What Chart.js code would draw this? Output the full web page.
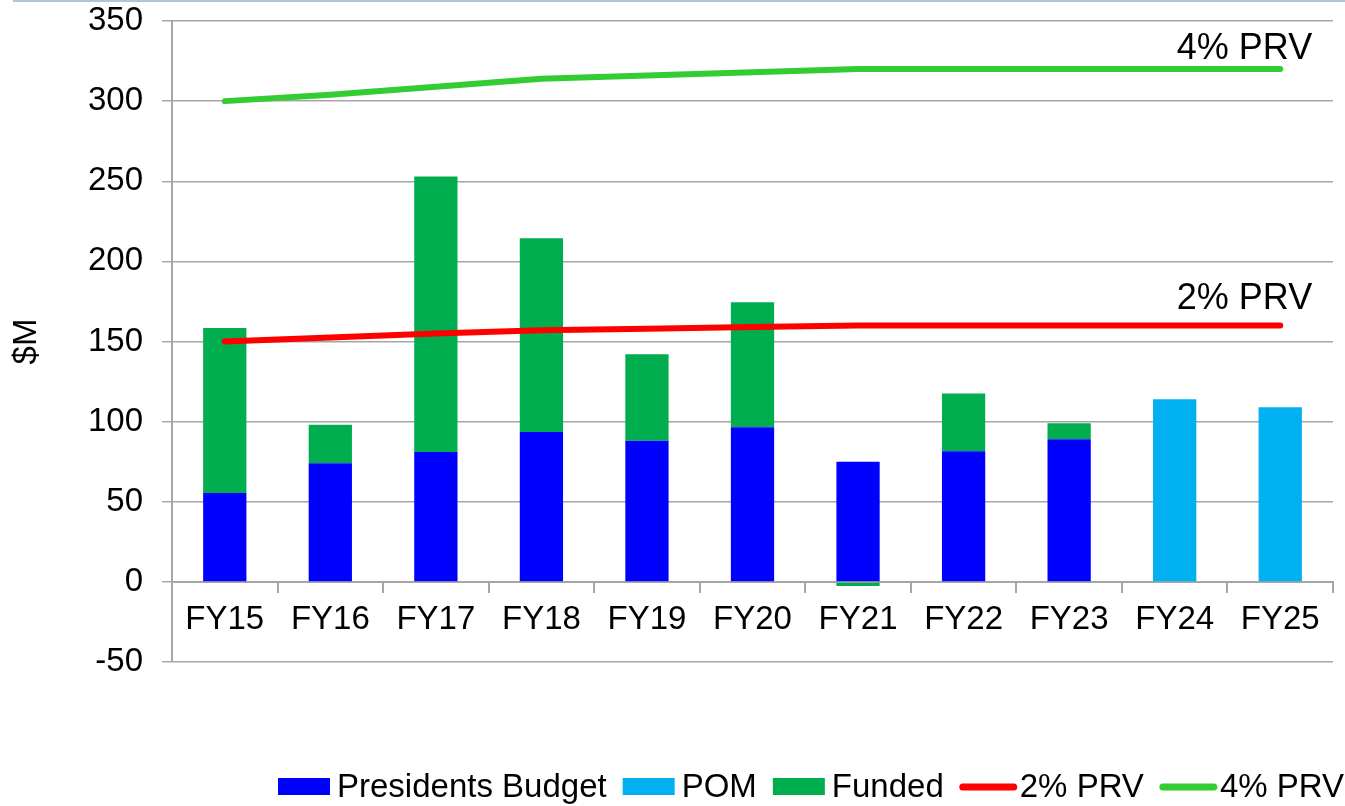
<!DOCTYPE html>
<html>
<head>
<meta charset="utf-8">
<script src="https://cdn.jsdelivr.net/npm/chart.js@4/dist/chart.umd.min.js"></script>
<style>
  html, body { margin: 0; padding: 0; background: #ffffff; }
  #wrap { position: relative; width: 1345px; height: 806px; }
  canvas { display: block; }
</style>
</head>
<body>
<div id="wrap"><canvas id="c" width="1345" height="806"></canvas></div>
<script>
// ---- data ----
const categories = ['FY15', 'FY16', 'FY17', 'FY18', 'FY19', 'FY20', 'FY21', 'FY22', 'FY23', 'FY24', 'FY25'];
const presidentsBudget = [55.5, 74, 81, 93.5, 88, 96.5, 75, 81.5, 89, null, null];
const pom = [null, null, null, null, null, null, null, null, null, 114, 109];
const funded = [103, 24, 172, 121, 54, 78, -2.5, 36, 10, null, null];
const prv2 = [150, 152.5, 155, 157, 158, 159, 160, 160, 160, 160, 160];
const prv4 = [300, 304, 309, 314, 316, 318, 320, 320, 320, 320, 320];
const yTicks = { min: -50, max: 350, step: 50 };
const seriesNames = ['Presidents Budget', 'POM', 'Funded', '2% PRV', '4% PRV'];

const FONT = "'Liberation Sans', Arial, sans-serif";
const GRID = '#a6a6a6';

const lineLabelPlugin = {
  id: 'lineLabels',
  afterDatasetsDraw(chart) {
    const ctx = chart.ctx;
    const xs = chart.scales.x, ys = chart.scales.y;
    const last = categories.length - 1;
    const xRight = xs.getPixelForValue(last) + 32;
    ctx.save();
    ctx.font = '36px ' + FONT;
    ctx.fillStyle = '#000000';
    ctx.textAlign = 'right';
    ctx.textBaseline = 'alphabetic';
    ctx.fillText(seriesNames[4], xRight, ys.getPixelForValue(prv4[last]) - 10);
    ctx.fillText(seriesNames[3], xRight, ys.getPixelForValue(prv2[last]) - 16);
    ctx.restore();
  }
};

const legendPlugin = {
  id: 'customLegend',
  afterDraw(chart) {
    const ctx = chart.ctx;
    ctx.save();
    // top border decoration
    ctx.fillStyle = '#b4c3dc';
    ctx.fillRect(13, 0, 1332, 2);

    ctx.font = '33px ' + FONT;
    ctx.textBaseline = 'middle';
    ctx.textAlign = 'left';
    const yc = 787;
    let x = 278;
    const ds = chart.data.datasets;
    [0, 1, 2, 3, 4].forEach((i) => {
      const d = ds[i];
      if (d.type === 'line') {
        const w = 57;
        ctx.strokeStyle = d.borderColor;
        ctx.lineWidth = 7;
        ctx.lineCap = 'round';
        ctx.beginPath();
        ctx.moveTo(x + 3, yc);
        ctx.lineTo(x + w - 3, yc);
        ctx.stroke();
        x += w + 3;
      } else {
        ctx.fillStyle = d.backgroundColor;
        ctx.fillRect(x, yc - 9, 52, 17);
        x += 52 + 7;
      }
      ctx.fillStyle = '#000000';
      ctx.fillText(d.label, x, yc + 1);
      x += ctx.measureText(d.label).width + 16;
    });
    ctx.restore();
  }
};

new Chart(document.getElementById('c'), {
  data: {
    labels: categories,
    datasets: [
      { type: 'bar', label: seriesNames[0], data: presidentsBudget, backgroundColor: '#0000ff', stack: 'b', order: 2 },
      { type: 'bar', label: seriesNames[1], data: pom, backgroundColor: '#00b0f0', stack: 'b', order: 2 },
      { type: 'bar', label: seriesNames[2], data: funded, backgroundColor: '#00ad4f', stack: 'b', order: 2 },
      { type: 'line', label: seriesNames[3], data: prv2, borderColor: '#ff0000', backgroundColor: '#ff0000',
        borderWidth: 6, pointRadius: 0, borderCapStyle: 'round', borderJoinStyle: 'round', tension: 0, stack: 'l2', order: 1, fill: false },
      { type: 'line', label: seriesNames[4], data: prv4, borderColor: '#33cc33', backgroundColor: '#33cc33',
        borderWidth: 6, pointRadius: 0, borderCapStyle: 'round', borderJoinStyle: 'round', tension: 0, stack: 'l4', order: 0, fill: false }
    ]
  },
  options: {
    responsive: false,
    animation: false,
    devicePixelRatio: 1,
    layout: { padding: { top: 21, right: 12, bottom: 144, left: 0 } },
    datasets: { bar: { categoryPercentage: 1.0, barPercentage: 0.41 } },
    plugins: {
      legend: { display: false },
      tooltip: { enabled: false },
      title: { display: false }
    },
    scales: {
      x: {
        type: 'category',
        position: { y: 0 },
        stacked: true,
        offset: true,
        afterFit(scale) { scale.paddingLeft = 0; scale.paddingRight = 0; scale.paddingTop = 0; scale.paddingBottom = 0; },
        grid: { display: true, drawOnChartArea: false, drawTicks: true, tickLength: 10, color: GRID, lineWidth: 2, offset: true },
        border: { display: true, color: GRID, width: 2 },
        ticks: { font: { family: FONT, size: 33 }, color: '#000000', padding: 8, maxRotation: 0, autoSkip: false }
      },
      y: {
        type: 'linear',
        stacked: true,
        min: yTicks.min,
        max: yTicks.max,
        afterFit(scale) { scale.width = 172; scale.paddingTop = 0; scale.paddingBottom = 0; },
        grid: { color: GRID, lineWidth: 1.5, tickLength: 10, drawTicks: true },
        border: { display: true, color: GRID, width: 2 },
        ticks: { stepSize: yTicks.step, font: { family: FONT, size: 33 }, color: '#000000', padding: 19 },
        title: { display: true, text: '$M', font: { family: FONT, size: 33 }, color: '#000000', padding: { top: 7, bottom: 0 } }
      }
    }
  },
  plugins: [lineLabelPlugin, legendPlugin]
});
</script>
</body>
</html>
